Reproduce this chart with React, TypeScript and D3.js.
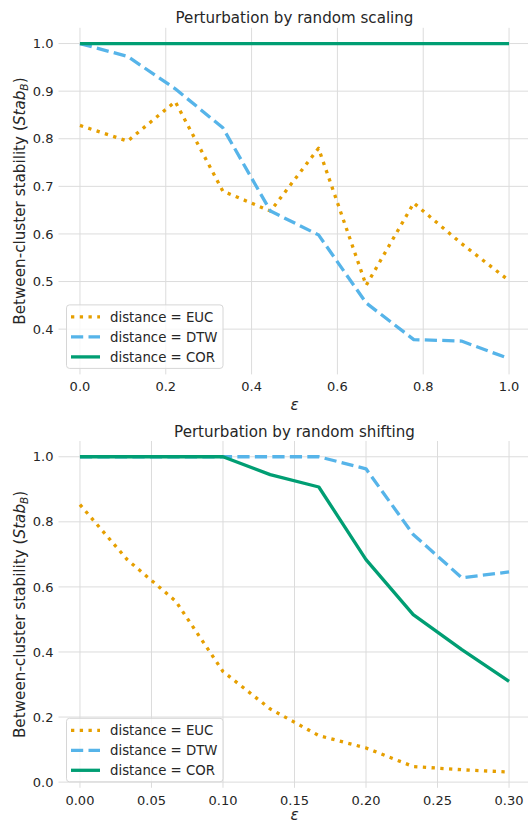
import * as d3 from 'd3';

// --- data ---
const scaleEps = [0, 0.111, 0.222, 0.333, 0.444, 0.556, 0.667, 0.778, 0.889, 1.0];
const scaleEUC = [0.828, 0.795, 0.878, 0.69, 0.648, 0.78, 0.492, 0.665, 0.58, 0.502];
const scaleDTW = [1.0, 0.973, 0.905, 0.823, 0.648, 0.598, 0.455, 0.378, 0.375, 0.338];
const scaleCOR = [1, 1, 1, 1, 1, 1, 1, 1, 1, 1];

const shiftEps = [0, 0.033, 0.067, 0.1, 0.133, 0.167, 0.2, 0.233, 0.267, 0.3];
const shiftEUC = [0.853, 0.684, 0.556, 0.34, 0.225, 0.143, 0.105, 0.048, 0.038, 0.031];
const shiftDTW = [1, 1, 1, 1, 1, 1.0, 0.963, 0.761, 0.628, 0.646];
const shiftCOR = [1, 1, 1, 1, 0.945, 0.907, 0.684, 0.515, 0.407, 0.31];

const scaleXTicks = [0, 0.2, 0.4, 0.6, 0.8, 1.0];
const scaleYTicks = [0.4, 0.5, 0.6, 0.7, 0.8, 0.9, 1.0];
const shiftXTicks = [0, 0.05, 0.1, 0.15, 0.2, 0.25, 0.3];
const shiftYTicks = [0, 0.2, 0.4, 0.6, 0.8, 1.0];

const seriesNames = ['EUC', 'DTW', 'COR'];
const seriesColors = ['#E69F00', '#56B4E9', '#009E73'];
const LW = 3.3;
const seriesDash = [`${LW},${LW * 1.65}`, `${LW * 3.7},${LW * 1.6}`, null];

const FONT = '"DejaVu Sans", sans-serif';
const GRID = '#dcdcdc';
const INK = '#262626';

type PanelProps = {
  title: string;
  top: number;
  bottom: number;
  xs: number[];
  ys: number[][];
  xTicks: number[];
  yTicks: number[];
  xFmt: string;
  yFmt: string;
};

const Panel = ({ title, top, bottom, xs, ys, xTicks, yTicks, xFmt, yFmt }: PanelProps) => {
  const left = 58.5;
  const right = 530.5;
  const [lo, hi] = d3.extent(ys.flat()) as [number, number];
  const pad = (hi - lo) * 0.05;
  const [x0, x1] = d3.extent(xs) as [number, number];
  const xpad = (x1 - x0) * 0.05;

  const x = d3.scaleLinear().domain([x0 - xpad, x1 + xpad]).range([left, right]);
  const y = d3.scaleLinear().domain([lo - pad, hi + pad]).range([bottom, top]);
  const fx = d3.format(xFmt);
  const fy = d3.format(yFmt);

  const line = d3.line<number>().x((_, i) => x(xs[i])).y((d) => y(d));

  const legX = 66.5;
  const legY = bottom - 69.5;

  return (
    <g>
      {xTicks.map((t) => (
        <line key={'gx' + t} x1={x(t)} x2={x(t)} y1={top} y2={bottom} stroke={GRID} strokeWidth={1} />
      ))}
      {yTicks.map((t) => (
        <line key={'gy' + t} x1={left} x2={right} y1={y(t)} y2={y(t)} stroke={GRID} strokeWidth={1} />
      ))}
      {xTicks.map((t) => (
        <text key={'tx' + t} x={x(t)} y={bottom + 17} textAnchor="middle" fontSize={13} fill={INK}>
          {fx(t)}
        </text>
      ))}
      {yTicks.map((t) => (
        <text key={'ty' + t} x={left - 5} y={y(t) + 4.6} textAnchor="end" fontSize={13} fill={INK}>
          {fy(t)}
        </text>
      ))}
      <text x={(left + right) / 2} y={top - 4.5} textAnchor="middle" fontSize={15.1} fill={INK}>
        {title}
      </text>
      <text
        x={(left + right) / 2}
        y={Math.min(bottom + 35.5, 819.5)}
        textAnchor="middle"
        fontSize={15.2}
        fontStyle="italic"
        fill={INK}
      >
        ε
      </text>
      <text
        transform={`translate(25,${(top + bottom) / 2}) rotate(-90)`}
        textAnchor="middle"
        fontSize={15.2}
        fill={INK}
      >
        Between-cluster stability (<tspan fontStyle="italic">Stab</tspan>
        <tspan fontStyle="italic" fontSize={10.6} dy={3.2}>B</tspan>
        <tspan dy={-3.2}>)</tspan>
      </text>

      {ys.map((s, i) => (
        <path
          key={'l' + i}
          d={line(s) || ''}
          fill="none"
          stroke={seriesColors[i]}
          strokeWidth={LW}
          strokeDasharray={seriesDash[i] || undefined}
          strokeLinejoin="round"
        />
      ))}

      {/* Legend */}
      <rect x={legX} y={legY} width={156.5} height={63.5} rx={3} fill="white" fillOpacity={0.8} stroke="#d6d6d6" strokeWidth={1} />
      {seriesNames.map((n, i) => {
        const ry = legY + 12 + i * 20;
        return (
          <g key={'lg' + n}>
            <line
              x1={legX + 4.5}
              x2={legX + 33.5}
              y1={ry}
              y2={ry}
              stroke={seriesColors[i]}
              strokeWidth={LW}
              strokeDasharray={seriesDash[i] || undefined}
            />
            <text x={legX + 43.5} y={ry + 4.7} fontSize={13.3} fill={INK}>
              distance = {n}
            </text>
          </g>
        );
      })}
    </g>
  );
};

export default function App() {
  return (
    <div style={{ position: 'absolute', left: 0, top: 0 }}>
      <svg width={528} height={821} style={{ display: 'block', fontFamily: FONT, background: 'white' }}>
        <Panel
          title="Perturbation by random scaling"
          top={27.8}
          bottom={374.4}
          xs={scaleEps}
          ys={[scaleEUC, scaleDTW, scaleCOR]}
          xTicks={scaleXTicks}
          yTicks={scaleYTicks}
          xFmt=".1f"
          yFmt=".1f"
        />
        <Panel
          title="Perturbation by random shifting"
          top={441}
          bottom={787.8}
          xs={shiftEps}
          ys={[shiftEUC, shiftDTW, shiftCOR]}
          xTicks={shiftXTicks}
          yTicks={shiftYTicks}
          xFmt=".2f"
          yFmt=".1f"
        />
      </svg>
    </div>
  );
}
